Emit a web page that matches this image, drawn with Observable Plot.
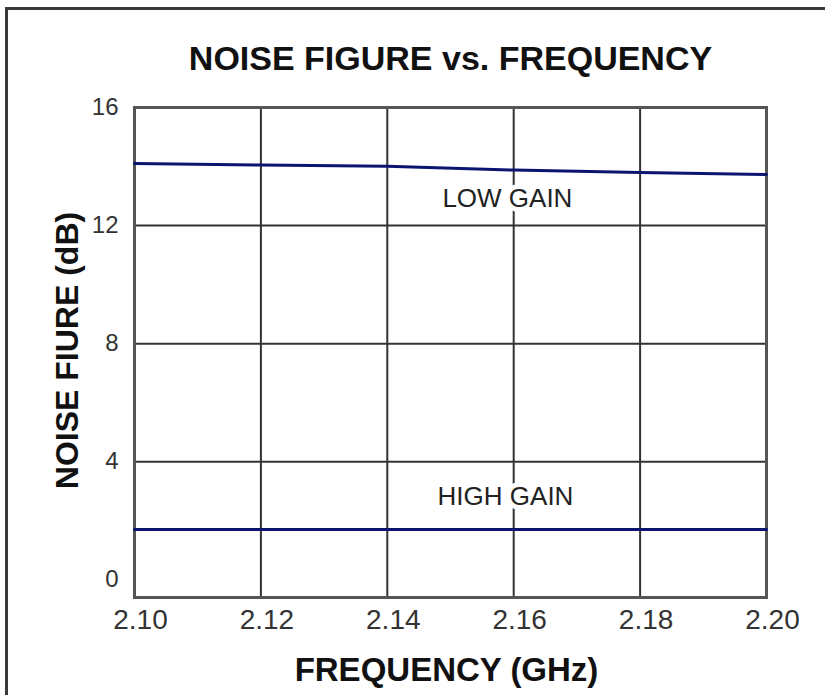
<!DOCTYPE html>
<html>
<head>
<meta charset="utf-8">
<script src="https://cdn.jsdelivr.net/npm/d3@7"></script>
<script src="https://cdn.jsdelivr.net/npm/@observablehq/plot@0.6"></script>
<style>
  html, body { margin: 0; padding: 0; background: #fff; }
  #wrap { position: relative; width: 825px; height: 695px; overflow: hidden; }
  #border { position: absolute; left: 5px; top: 7px; width: 900px; height: 900px;
            border-left: 3px solid #3a3a3a; border-top: 3px solid #3a3a3a; }
  #chart { position: absolute; left: 0; top: 0; }
</style>
</head>
<body>
<div id="wrap"><div id="border"></div><div id="chart"></div></div>
<script>
// ---- data ----
const title = "NOISE FIGURE vs. FREQUENCY";
const xLabel = "FREQUENCY (GHz)";
const yLabel = "NOISE FIURE (dB)";
const freq = [2.10, 2.12, 2.14, 2.16, 2.18, 2.20];
const lowGain = [14.10, 14.05, 14.01, 13.88, 13.80, 13.73];
const highGain = [1.70, 1.70, 1.70, 1.70, 1.70, 1.70];
const xTicks = [2.10, 2.12, 2.14, 2.16, 2.18, 2.20];
const xGrid = [2.12, 2.14, 2.16, 2.18];
const yTicks = [0, 4, 8, 12, 16];
const yGrid = [4, 8, 12];
const seriesNames = ["LOW GAIN", "HIGH GAIN"];
const labelX = [2.159, 2.1587];
const labelY = [12.9, 2.83];

const lowData = freq.map((f, i) => ({f, v: lowGain[i]}));
const highData = freq.map((f, i) => ({f, v: highGain[i]}));
const labelData = seriesNames.map((name, i) => ({name, x: labelX[i], y: labelY[i]}));

const navy = "#0b1570";
const gridStyle = {stroke: "#333", strokeOpacity: 1, strokeWidth: 2};

const chart = Plot.plot({
  width: 825,
  height: 695,
  marginLeft: 134,
  marginRight: 59,
  marginTop: 107,
  marginBottom: 98,
  x: {domain: [2.10, 2.20]},
  y: {domain: [-0.6, 16]},
  style: {fontFamily: "'Liberation Sans', Arial, Helvetica, sans-serif", background: "transparent", color: "#222"},
  marks: [
    Plot.gridX(xGrid, gridStyle),
    Plot.gridY(yGrid, gridStyle),
    Plot.frame({stroke: "#555", strokeWidth: 3}),
    Plot.axisX(xTicks, {tickSize: 0, tickPadding: 12, fontSize: 28, tickFormat: ".2f", label: null, fill: "#333", dx: 6}),
    Plot.axisY(yTicks, {tickSize: 0, tickPadding: 16, fontSize: 24, label: null, fill: "#333"}),
    Plot.line(lowData, {x: "f", y: "v", stroke: navy, strokeWidth: 3}),
    Plot.line(highData, {x: "f", y: "v", stroke: navy, strokeWidth: 3}),
    Plot.text(labelData, {x: "x", y: "y", text: "name", fontSize: 26, fill: "#222",
      stroke: "white", strokeWidth: 10, lineAnchor: "middle"}),
    Plot.text([title], {text: d => d, frameAnchor: "top", lineAnchor: "bottom", dy: -38,
      fontSize: 34, fontWeight: "bold", fill: "#111"}),
    Plot.text([xLabel], {text: d => d, frameAnchor: "bottom", lineAnchor: "bottom", dy: 83, dx: -4,
      fontSize: 33, fontWeight: "bold", fill: "#111"}),
    Plot.text([yLabel], {text: d => d, frameAnchor: "left", textAnchor: "middle", lineAnchor: "bottom",
      rotate: -90, dx: -57, dy: -2, fontSize: 32, fontWeight: "bold", fill: "#111"})
  ]
});
document.getElementById("chart").appendChild(chart);
</script>
</body>
</html>
